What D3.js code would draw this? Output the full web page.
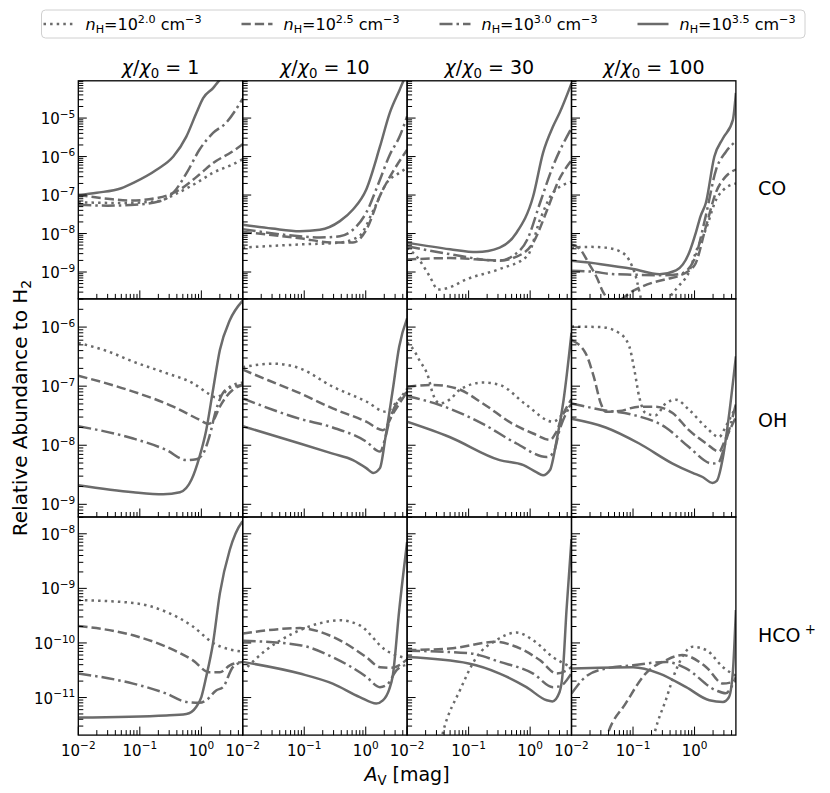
<!DOCTYPE html>
<html>
<head>
<meta charset="utf-8">
<script src="https://cdn.jsdelivr.net/npm/d3@7"></script>
<style>
  body { margin: 0; background: #fff; }
  text { font-family: "DejaVu Sans", sans-serif; fill: #000; }
</style>
</head>
<body>
<svg id="chart" width="830" height="793"></svg>
<script>
// series order in every panel: nH = 10^2.0, 10^2.5, 10^3.0, 10^3.5
const densities = ['2.0', '2.5', '3.0', '3.5'];
const chis = ['1', '10', '30', '100'];
const species = ['CO', 'OH', 'HCO'];

const avDomain = [0.01, 4.7];
const rowDomains = [[2e-10, 9.3e-5], [6.1e-10, 3.0e-6], [2.05e-12, 2.03e-8]];
const xTickExps = [-2, -1, 0];

// [A_V, abundance] pairs
const CO_1 = [
  [[0.01,6.5e-8],[0.05,6.2e-8],[0.2,7e-8],[0.4,1.1e-7],[0.93,2.3e-7],[1.55,3.8e-7],[3.2,6.2e-7],[4.7,8.5e-7]],
  [[0.01,1.0e-7],[0.03,8e-8],[0.07,7.2e-8],[0.2,8.5e-8],[0.45,1.4e-7],[0.93,3.4e-7],[1.55,6.8e-7],[3.2,1.35e-6],[4.7,2.1e-6]],
  [[0.01,5.6e-8],[0.03,5.3e-8],[0.07,5.5e-8],[0.21,6.9e-8],[0.35,1.15e-7],[0.58,3.8e-7],[0.93,1.5e-6],[1.55,4.1e-6],[2.5,7.4e-6],[4.7,3.2e-5]],
  [[0.01,1.0e-7],[0.02,1.15e-7],[0.05,1.5e-7],[0.08,2.1e-7],[0.19,4.6e-7],[0.35,1.0e-6],[0.57,3.3e-6],[0.83,1.35e-5],[1.07,3.3e-5],[1.55,6e-5],[1.9,9e-5],[3,1.6e-4],[4.7,2.5e-4]]
];
const CO_10 = [
  [[0.01,4.3e-9],[0.085,5.2e-9],[0.38,5.8e-9],[0.78,8.5e-9],[1.35,4.2e-8],[2.2,2.1e-7],[3.55,3.8e-7],[4.7,5.1e-7]],
  [[0.01,1.1e-8],[0.085,7.5e-9],[0.3,5.8e-9],[0.62,5.8e-9],[1.02,1.25e-8],[1.7,9.5e-8],[2.9,4.6e-7],[4.7,1.5e-6]],
  [[0.01,1.3e-8],[0.085,8.5e-9],[0.18,7.9e-9],[0.38,8.5e-9],[0.62,1.25e-8],[1.02,3.5e-8],[1.7,2.5e-7],[2.45,1.1e-6],[3.55,3.3e-6],[4.7,1.1e-5]],
  [[0.01,1.7e-8],[0.03,1.35e-8],[0.085,1.15e-8],[0.18,1.25e-8],[0.38,2.1e-8],[0.62,4.2e-8],[1.02,1.4e-7],[1.7,1.8e-6],[2.45,1.35e-5],[3.55,5.4e-5],[4.2,1e-4],[4.7,1.3e-4]]
];
const CO_30 = [
  [[0.01,4.3e-9],[0.015,2.3e-9],[0.023,8e-10],[0.032,3.5e-10],[0.045,3.8e-10],[0.093,6.5e-10],[0.32,1.2e-9],[0.9,2.6e-9],[1.45,2.3e-8],[2.35,1.15e-7],[4.7,2.2e-7]],
  [[0.01,2.1e-9],[0.05,2.3e-9],[0.32,2e-9],[0.6,2.5e-9],[1.12,5.8e-9],[1.9,4.2e-8],[2.8,2.1e-7],[4.7,8e-7]],
  [[0.01,4.7e-9],[0.05,2.9e-9],[0.32,1.95e-9],[0.52,2.6e-9],[0.9,7e-9],[1.45,6.3e-8],[2.35,5.6e-7],[4.7,5.5e-6]],
  [[0.01,5.8e-9],[0.05,3.9e-9],[0.135,3.3e-9],[0.32,4.3e-9],[0.6,1.05e-8],[1.12,9.3e-8],[1.62,1.25e-6],[2.35,6e-6],[3.0,1.35e-5],[4.7,8e-5]]
];
const CO_100 = [
  [[0.01,4.3e-9],[0.02,4.5e-9],[0.035,4.3e-9],[0.06,3.5e-9],[0.087,2e-9],[0.11,8e-10],[0.135,2e-10],[0.18,4e-11],[0.3,6e-11],[0.39,2e-10],[0.56,4.4e-10],[0.78,8.7e-10],[1.1,4e-9],[1.53,1.3e-8],[2.24,7.6e-8],[3.0,1.4e-7],[4.7,2e-7]],
  [[0.01,5.2e-9],[0.014,3.8e-9],[0.019,1.7e-9],[0.026,7e-10],[0.032,3.2e-10],[0.04,2e-10],[0.055,1.8e-10],[0.098,3.2e-10],[0.21,5.3e-10],[0.39,6.8e-10],[0.56,8e-10],[1.0,1.5e-9],[1.53,1.5e-8],[2.24,1.2e-7],[3.2,3e-7],[4.7,4.6e-7]],
  [[0.01,1.07e-9],[0.025,1.0e-9],[0.04,9e-10],[0.1,8.5e-10],[0.3,8.2e-10],[0.6,9e-10],[1.0,2.2e-9],[1.53,3e-8],[2.24,4.6e-7],[3.2,1.3e-6],[4.7,2.5e-6]],
  [[0.01,1.95e-9],[0.03,1.6e-9],[0.1,1.2e-9],[0.27,8.8e-10],[0.5,1.1e-9],[0.82,3.2e-9],[1.05,1.05e-8],[1.25,2.8e-8],[1.53,6.3e-8],[2.1,1e-6],[2.9,3e-6],[4.2,9e-6],[4.7,4.5e-5]]
];

const OH_1 = [
  [[0.01,5.4e-7],[0.03,3.9e-7],[0.078,2.6e-7],[0.27,1.66e-7],[0.73,1.12e-7],[1.3,7.5e-8],[1.7,6.5e-8],[2.3,7.5e-8],[3,1e-7],[4.7,1.15e-7]],
  [[0.01,1.5e-7],[0.078,8.1e-8],[0.35,4.5e-8],[0.93,2.7e-8],[1.29,2.3e-8],[1.55,2.6e-8],[2.0,4.5e-8],[3.25,8.7e-8],[4.7,1.05e-7]],
  [[0.01,2.1e-8],[0.078,1.3e-8],[0.27,8.3e-9],[0.57,5.6e-9],[0.83,5.8e-9],[1.07,7.2e-9],[1.35,1.4e-8],[1.74,4e-8],[2.5,8.7e-8],[4.7,1.05e-7]],
  [[0.01,2.1e-9],[0.078,1.6e-9],[0.24,1.48e-9],[0.45,1.6e-9],[0.69,2.6e-9],[0.93,6.3e-9],[1.2,1.8e-8],[1.55,8.7e-8],[2.0,4.1e-7],[2.9,1.3e-6],[4.7,2.8e-6]]
];
const OH_10 = [
  [[0.01,2.1e-7],[0.032,2.4e-7],[0.085,2e-7],[0.29,9.8e-8],[1.02,5.5e-8],[2.1,3.7e-8],[3.0,5e-8],[4.7,9e-8]],
  [[0.01,1.9e-7],[0.026,1.26e-7],[0.085,7.6e-8],[0.29,4.2e-8],[1.02,2.5e-8],[1.9,1.8e-8],[2.8,3.5e-8],[4.7,8e-8]],
  [[0.01,6.2e-8],[0.085,2.8e-8],[0.29,2e-8],[1.02,1.15e-8],[1.7,7.8e-9],[2.1,1.4e-8],[2.45,2.7e-8],[4.7,8e-8]],
  [[0.01,2.1e-8],[0.085,1.07e-8],[0.29,7.2e-9],[0.62,5.6e-9],[1.02,4.1e-9],[1.32,3.4e-9],[1.7,4.1e-9],[2.1,1.4e-8],[2.75,8.7e-8],[3.5,4.7e-7],[4.7,1.4e-6]]
];
const OH_30 = [
  [[0.01,5.5e-7],[0.013,4e-7],[0.016,2.7e-7],[0.022,1.45e-7],[0.026,7.6e-8],[0.034,5.1e-8],[0.05,6e-8],[0.072,8.7e-8],[0.17,1.15e-7],[0.32,1.05e-7],[0.87,4.8e-8],[2.35,2.5e-8],[3.5,3.5e-8],[4.7,5e-8]],
  [[0.01,9.8e-8],[0.026,1.05e-7],[0.063,9.2e-8],[0.17,5.1e-8],[0.52,2.3e-8],[1.12,1.58e-8],[2.1,1.23e-8],[2.6,1.6e-8],[3.5,3.5e-8],[4.7,6e-8]],
  [[0.01,6.8e-8],[0.034,4.8e-8],[0.17,2.3e-8],[0.6,1.07e-8],[1.86,6.3e-9],[2.4,7.5e-9],[3.0,1.8e-8],[4.7,5e-8]],
  [[0.01,2.5e-8],[0.049,1.38e-8],[0.32,5.6e-9],[0.78,4.6e-9],[1.26,3.5e-9],[1.62,3.1e-9],[2.1,3.8e-9],[2.7,1.23e-8],[3.5,5.9e-8],[4.7,8e-7]]
];
const OH_100 = [
  [[0.01,1.02e-6],[0.03,1.0e-6],[0.06,7.9e-7],[0.087,4.7e-7],[0.105,1.9e-7],[0.126,6.6e-8],[0.16,3.5e-8],[0.23,3.2e-8],[0.34,5.1e-8],[0.5,5.9e-8],[0.81,4e-8],[1.55,2e-8],[2.5,1.38e-8],[3.3,2.2e-8],[4.7,4.5e-8]],
  [[0.01,6e-7],[0.017,3.6e-7],[0.023,1.45e-7],[0.03,5.1e-8],[0.036,3.7e-8],[0.06,3.8e-8],[0.126,4.5e-8],[0.23,4.5e-8],[0.44,3.5e-8],[0.81,1.8e-8],[1.55,1.07e-8],[2.5,7.8e-9],[3.2,1.3e-8],[4.7,3e-8]],
  [[0.01,5.1e-8],[0.03,4e-8],[0.097,3.3e-8],[0.34,2e-8],[0.81,9.3e-9],[1.95,4.9e-9],[2.4,5e-9],[3.25,1.2e-8],[4.7,5e-8]],
  [[0.01,2.8e-8],[0.036,2e-8],[0.126,1.07e-8],[0.44,4.9e-9],[0.93,3.4e-9],[1.35,2.9e-9],[1.95,2.3e-9],[2.3,2.5e-9],[2.9,6.3e-9],[3.6,3e-8],[4.7,3.2e-7]]
];

const HCO_1 = [
  [[0.01,6.1e-10],[0.078,5.4e-10],[0.27,3.7e-10],[0.73,2e-10],[1.55,1e-10],[4.7,6.9e-11]],
  [[0.01,2.04e-10],[0.078,1.38e-10],[0.27,8.5e-11],[0.73,4.8e-11],[1.35,2.9e-11],[2.0,2.9e-11],[2.9,3.9e-11],[4.7,4.5e-11]],
  [[0.01,2.75e-11],[0.078,1.8e-11],[0.27,1.18e-11],[0.57,8.3e-12],[0.93,8e-12],[1.2,8.9e-12],[1.74,1.35e-11],[2.25,1.55e-11],[3.25,3.6e-11],[4.7,4.5e-11]],
  [[0.01,4.3e-12],[0.27,4.7e-12],[0.57,5e-12],[0.83,6.8e-12],[1.0,1.02e-11],[1.2,2.4e-11],[1.55,1e-10],[2.0,8.1e-10],[2.9,5.1e-9],[4.5,1.6e-8],[4.7,1.7e-8]]
];
const HCO_10 = [
  [[0.01,3e-11],[0.024,7.4e-11],[0.066,1.5e-10],[0.18,2.3e-10],[0.38,2.6e-10],[0.8,2.1e-10],[2.1,7.4e-11],[4.7,5.2e-11]],
  [[0.01,1.48e-10],[0.024,1.7e-10],[0.085,1.87e-10],[0.29,1.3e-10],[1.02,5.5e-11],[1.7,3.6e-11],[2.6,3.5e-11],[4.7,5e-11]],
  [[0.01,1.1e-10],[0.085,9.1e-11],[0.29,5.5e-11],[1.02,2.4e-11],[1.7,1.55e-11],[2.2,1.7e-11],[3.2,3.2e-11],[4.7,4e-11]],
  [[0.01,4.5e-11],[0.085,2.75e-11],[0.29,1.8e-11],[0.8,1.02e-11],[1.48,7.8e-12],[1.9,8.9e-12],[2.4,1.4e-11],[2.75,2.5e-11],[3.5,4e-10],[4.7,7e-9]]
];
const HCO_30 = [
  [[0.01,1e-14],[0.025,3e-13],[0.032,1e-12],[0.039,2.5e-12],[0.072,1.35e-11],[0.135,5.5e-11],[0.28,1.12e-10],[0.6,1.55e-10],[1.12,1.12e-10],[2.35,5.5e-11],[4.7,3.6e-11]],
  [[0.01,7.4e-11],[0.049,7.9e-11],[0.28,1.05e-10],[0.52,9e-11],[1.45,4.8e-11],[2.7,2.75e-11],[4.7,3.6e-11]],
  [[0.01,7.2e-11],[0.1,6.5e-11],[0.32,4.5e-11],[1.12,2.75e-11],[2.35,1.55e-11],[3.0,1.6e-11],[4.7,2.8e-11]],
  [[0.01,5.5e-11],[0.1,4.2e-11],[0.32,2.75e-11],[0.87,1.55e-11],[1.86,8.9e-12],[2.3,8.5e-12],[3.0,1.25e-11],[3.4,3e-11],[3.9,4e-10],[4.7,8e-9]]
];
const HCO_100 = [
  [[0.1,1e-14],[0.17,5e-13],[0.23,2.5e-12],[0.34,8.9e-12],[0.5,3.2e-11],[0.93,8.5e-11],[1.55,7.4e-11],[2.9,3.6e-11],[4.7,2.5e-11]],
  [[0.015,1e-14],[0.03,8e-13],[0.039,2.2e-12],[0.076,7.8e-12],[0.16,2.75e-11],[0.34,4.8e-11],[0.63,6e-11],[1.55,3.6e-11],[2.9,1.8e-11],[4.7,2e-11]],
  [[0.01,1.18e-11],[0.017,2.4e-11],[0.036,3.4e-11],[0.1,3.9e-11],[0.34,4.5e-11],[0.7,3.5e-11],[2.24,1.35e-11],[3.2,1.2e-11],[4.7,2.4e-11]],
  [[0.01,3.4e-11],[0.1,3.6e-11],[0.27,2.75e-11],[0.73,1.55e-11],[1.74,8.9e-12],[2.9,8.3e-12],[3.6,1e-11],[4.2,3e-11],[4.7,4e-10]]
];

const panels = [
  [CO_1, CO_10, CO_30, CO_100],
  [OH_1, OH_10, OH_30, OH_100],
  [HCO_1, HCO_10, HCO_30, HCO_100]
];

// layout
const plotLeft = 78.3, plotTop = 80.8;
const panelW = 164.4, panelH = 218.1;
const lineColor = '#6b6b6b';
const lineWidth = 2.5;
const dashes = ['2.5,4.1', '9.3,4', '13,4,2.5,4', null];
const majorLen = 8.5, minorLen = 5;

const svg = d3.select('#chart');

// builds mathtext-like labels: it = italic, sup / sub = small raised / lowered
function rich(textSel, parts, size) {
  let off = 0;
  parts.forEach(p => {
    const s = textSel.append('tspan').text(p.t);
    let target = 0;
    if (p.sup) target = -0.42;
    if (p.sub) target = 0.22;
    if (p.sup || p.sub) s.attr('font-size', (size * 0.7) + 'px');
    if (p.it) s.attr('font-style', 'italic');
    if (target !== off) s.attr('dy', ((target - off) * size).toFixed(2));
    off = target;
  });
  return textSel;
}

const x = d3.scaleLog().domain(avDomain).range([0, panelW]);
const isMajor = t => Math.abs(Math.log10(t) - Math.round(Math.log10(t))) < 1e-6;

const defs = svg.append('defs');

panels.forEach((row, r) => {
  const y = d3.scaleLog().domain(rowDomains[r]).range([panelH, 0]);
  row.forEach((series, c) => {
    const g = svg.append('g')
      .attr('transform', `translate(${plotLeft + c * panelW},${plotTop + r * panelH})`);
    const clipId = `clip-${r}-${c}`;
    defs.append('clipPath').attr('id', clipId)
      .append('rect').attr('width', panelW).attr('height', panelH);

    const line = d3.line().x(d => x(d[0])).y(d => y(d[1])).curve(d3.curveMonotoneX);
    g.append('g').attr('clip-path', `url(#${clipId})`)
      .selectAll('path').data(series).join('path')
      .attr('d', line)
      .attr('fill', 'none')
      .attr('stroke', lineColor)
      .attr('stroke-width', lineWidth)
      .attr('stroke-dasharray', (d, i) => dashes[i]);

    // ticks, pointing in, bottom and left only
    x.ticks().forEach(t => {
      const len = isMajor(t) ? majorLen : minorLen;
      g.append('line').attr('x1', x(t)).attr('x2', x(t))
        .attr('y1', panelH).attr('y2', panelH - len)
        .attr('stroke', '#000').attr('stroke-width', 1);
    });
    y.ticks().forEach(t => {
      const len = isMajor(t) ? majorLen : minorLen;
      g.append('line').attr('x1', 0).attr('x2', len)
        .attr('y1', y(t)).attr('y2', y(t))
        .attr('stroke', '#000').attr('stroke-width', 1);
    });

    g.append('rect').attr('width', panelW).attr('height', panelH)
      .attr('fill', 'none').attr('stroke', '#000').attr('stroke-width', 1.3);

    if (c === 0) {
      y.ticks().filter(isMajor).forEach(t => {
        const e = Math.round(Math.log10(t));
        rich(g.append('text').attr('x', -3).attr('y', y(t) + 6)
          .attr('text-anchor', 'end').attr('font-size', '15px'),
          [{t: '10'}, {t: '\u2212' + Math.abs(e), sup: true}], 15);
      });
    }
    if (r === panels.length - 1) {
      xTickExps.forEach(e => {
        const lab = e < 0 ? '\u2212' + Math.abs(e) : String(e);
        rich(g.append('text').attr('x', x(Math.pow(10, e))).attr('y', panelH + 20.5)
          .attr('text-anchor', 'middle').attr('font-size', '15px'),
          [{t: '10'}, {t: lab, sup: true}], 15);
      });
    }
  });
});

// column titles
chis.forEach((chi, c) => {
  rich(svg.append('text').attr('x', plotLeft + (c + 0.5) * panelW).attr('y', 74)
    .attr('text-anchor', 'middle').attr('font-size', '19px'),
    [{t: '\u03C7', it: true}, {t: '/'}, {t: '\u03C7', it: true}, {t: '0', sub: true}, {t: ' = ' + chi}], 19);
});

// row labels
const rowLabelY = [195, 427, 642];
species.forEach((sp, r) => {
  const t = svg.append('text').attr('x', 758).attr('y', rowLabelY[r]).attr('font-size', '19px');
  if (sp === 'HCO') rich(t, [{t: 'HCO'}, {t: ' +', sup: true}], 19);
  else t.text(sp);
});

// axis labels
rich(svg.append('text').attr('transform', 'translate(27,408) rotate(-90)')
  .attr('text-anchor', 'middle').attr('font-size', '20px'),
  [{t: 'Relative Abundance to H'}, {t: '2', sub: true}], 20);
rich(svg.append('text').attr('x', 407).attr('y', 781)
  .attr('text-anchor', 'middle').attr('font-size', '19px'),
  [{t: 'A', it: true}, {t: 'V', sub: true}, {t: ' [mag]'}], 19);

// legend
const leg = svg.append('g');
leg.append('rect').attr('x', 41.5).attr('y', 10).attr('width', 763.5).attr('height', 28)
  .attr('rx', 4).attr('fill', '#fff').attr('stroke', '#d0d0d0').attr('stroke-width', 1);
densities.forEach((dn, i) => {
  const x0 = 43.5 + i * 198;
  leg.append('line').attr('x1', x0).attr('x2', x0 + 31).attr('y1', 24).attr('y2', 24)
    .attr('stroke', lineColor).attr('stroke-width', lineWidth)
    .attr('stroke-dasharray', dashes[i]);
  rich(leg.append('text').attr('x', x0 + 42).attr('y', 29.5).attr('font-size', '16px'),
    [{t: 'n', it: true}, {t: 'H', sub: true}, {t: '=10'}, {t: dn, sup: true}, {t: ' cm'}, {t: '\u22123', sup: true}], 16);
});
</script>
</body>
</html>
